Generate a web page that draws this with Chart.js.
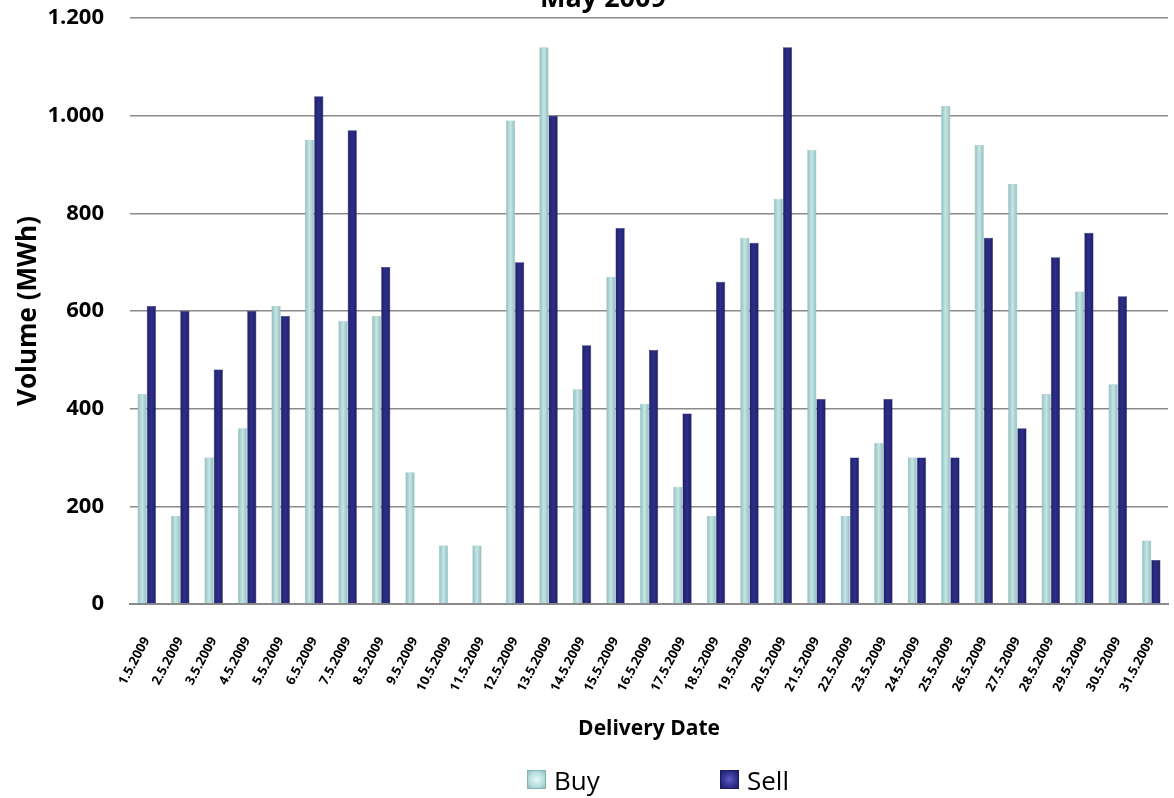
<!DOCTYPE html>
<html>
<head>
<meta charset="utf-8">
<script src="https://cdn.jsdelivr.net/npm/chart.js@4.4.1/dist/chart.umd.min.js"></script>
<style>
  html, body { margin: 0; padding: 0; background: #fff; overflow: hidden; }
  #title { position: absolute; left: 0; top: -21px; width: 1206px; text-align: center; line-height: 36px;
           font-family: "Open Sans", sans-serif; font-size: 27px; font-weight: bold; color: #000; }
  #wrap { position: absolute; left: 0; top: 0; width: 1174px; height: 764px; }
  #legend { position: absolute; top: 762px; left: 0; width: 1174px; height: 35px; font-family: "Open Sans", sans-serif; font-size: 26px; color: #000; }
  .lg-item { position: absolute; top: 0; height: 35px; display: flex; align-items: center; }
  .lg-box { width: 19px; height: 19px; margin-right: 8px; box-sizing: border-box; }
  .lg-box--buy { background: radial-gradient(circle, #e8f7f7 0%, #b8dede 60%, #8fbfbf 100%); border: 1px solid #86b3b3; }
  .lg-box--sell { background: radial-gradient(circle, #5c5cc4 0%, #31318e 60%, #1f1f66 100%); border: 1px solid #1c1c5c; }
</style>
</head>
<body>
<div id="wrap"><canvas id="volChart"></canvas></div>
<div id="title">May 2009</div>
<div id="legend">
  <div class="lg-item" style="left:527px"><span class="lg-box lg-box--buy"></span>Buy</div>
  <div class="lg-item" style="left:720px"><span class="lg-box lg-box--sell"></span>Sell</div>
</div>
<script>
// ----- data -----
const DAYS = [
  '1.5.2009', '2.5.2009', '3.5.2009', '4.5.2009', '5.5.2009', '6.5.2009', '7.5.2009', '8.5.2009',
  '9.5.2009', '10.5.2009', '11.5.2009', '12.5.2009', '13.5.2009', '14.5.2009', '15.5.2009', '16.5.2009',
  '17.5.2009', '18.5.2009', '19.5.2009', '20.5.2009', '21.5.2009', '22.5.2009', '23.5.2009', '24.5.2009',
  '25.5.2009', '26.5.2009', '27.5.2009', '28.5.2009', '29.5.2009', '30.5.2009', '31.5.2009'
];
const BUY = [430, 180, 300, 360, 610, 950, 580, 590, 270, 120, 120, 990, 1140, 440, 670, 410,
             240, 180, 750, 830, 930, 180, 330, 300, 1020, 940, 860, 430, 640, 450, 130];
const SELL = [610, 600, 480, 600, 590, 1040, 970, 690, 0, 0, 0, 700, 1000, 530, 770, 520,
              390, 660, 740, 1140, 420, 300, 420, 300, 300, 750, 360, 710, 760, 630, 90];
const Y_TICKS = [0, 200, 400, 600, 800, 1000, 1200];

const FONT = '"Open Sans", sans-serif';
const CAT_PCT = 0.55;
const fmtThousands = v => String(v).replace(/\B(?=(\d{3})+(?!\d))/g, '.');

// horizontal "bevel" gradient across each bar, placed from the x scale
function barFill(edge, mid, solid) {
  return (context) => {
    const chart = context.chart;
    const xs = chart.scales.x;
    if (!chart.chartArea || !xs || context.dataIndex == null) return solid;
    const catW = (xs.right - xs.left) / DAYS.length;
    const barW = catW * CAT_PCT / 2;
    const cx = xs.getPixelForValue(context.dataIndex) + (context.datasetIndex === 0 ? -barW / 2 : barW / 2);
    const g = chart.ctx.createLinearGradient(cx - barW / 2, 0, cx + barW / 2, 0);
    g.addColorStop(0, edge);
    g.addColorStop(0.5, mid);
    g.addColorStop(1, edge);
    return g;
  };
}

window.addEventListener('DOMContentLoaded', () => {
  const ctx = document.getElementById('volChart');
  const chart = new Chart(ctx, {
    type: 'bar',
    data: {
      labels: DAYS,
      datasets: [
        { label: 'Buy', data: BUY, backgroundColor: barFill('#8fbcbc', '#c6e6e6', '#acd6d6'),
          borderColor: '#8ab6b6', borderWidth: 0.5, barPercentage: 1, categoryPercentage: CAT_PCT },
        { label: 'Sell', data: SELL, backgroundColor: barFill('#1f1f66', '#2e2e8a', '#2a2a7e'),
          borderColor: '#1a1a58', borderWidth: 0.5, barPercentage: 1, categoryPercentage: CAT_PCT }
      ]
    },
    options: {
      responsive: true,
      maintainAspectRatio: false,
      animation: false,
      layout: { padding: { left: 8, right: 6, bottom: 22, top: 18 } },
      plugins: {
        legend: { display: false },
        tooltip: { enabled: false },
        title: { display: false }
      },
      scales: {
        x: {
          afterFit: s => { s.paddingLeft = 0; s.paddingRight = 0; },
          grid: { display: false },
          border: { display: true, color: '#8a8a8a', width: 2 },
          ticks: {
            autoSkip: false, minRotation: 62, maxRotation: 62, padding: 22.5,
            color: '#000', font: { family: FONT, size: 13, weight: 'bold' }
          },
          title: {
            display: true, text: 'Delivery Date', color: '#000',
            font: { family: FONT, size: 21, weight: 'bold' }, padding: { top: 0, bottom: 0 }
          }
        },
        y: {
          min: 0, max: 1200,
          afterFit: s => { s.width = 122; s.paddingTop = 0; s.paddingBottom = 0; },
          afterBuildTicks: axis => { axis.ticks = Y_TICKS.map(v => ({ value: v })); },
          grid: { color: '#8a8a8a', lineWidth: 1.6, drawTicks: false },
          border: { display: false },
          ticks: {
            padding: 26, color: '#000',
            font: { family: FONT, size: 22, weight: 'bold' },
            callback: v => fmtThousands(v)
          },
          title: {
            display: true, text: 'Volume (MWh)', color: '#000',
            font: { family: FONT, size: 26, weight: 'bold' }, padding: { top: 5, bottom: 2 }
          }
        }
      }
    }
  });
  chart.update();
});
</script>
</body>
</html>
